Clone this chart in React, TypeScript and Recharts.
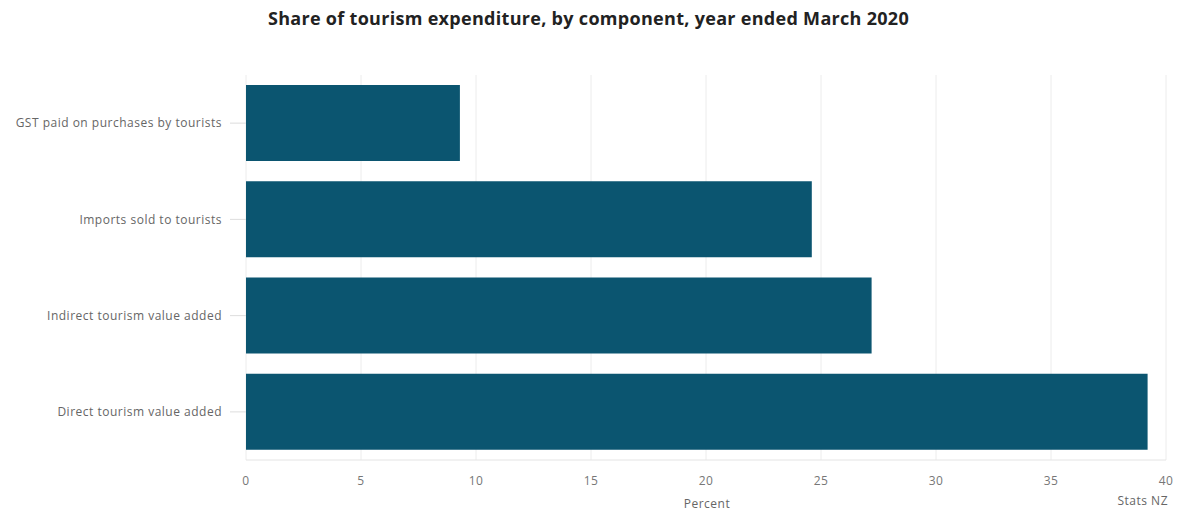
import React from 'react';
import { BarChart, Bar, XAxis, YAxis, CartesianGrid } from 'recharts';

const CATEGORIES = [
  'GST paid on purchases by tourists',
  'Imports sold to tourists',
  'Indirect tourism value added',
  'Direct tourism value added',
];
const SHARE = [9.3, 24.6, 27.2, 39.2];
const X_TICKS = [0, 5, 10, 15, 20, 25, 30, 35, 40];

const data = CATEGORIES.map((name, i) => ({ name, share: SHARE[i] }));

const font = '"Open Sans", "Liberation Sans", sans-serif';

const App: React.FC = () => {
  return (
    <div style={{ position: 'absolute', left: 0, top: 0, width: 1177, height: 514, background: '#fff', fontFamily: font }}>
      <div style={{ position: 'absolute', top: 6, left: 0, width: 1177, textAlign: 'center', fontSize: 18, fontWeight: 700, letterSpacing: 0.3, color: '#222' }}>
        Share of tourism expenditure, by component, year ended March 2020
      </div>

      <BarChart
        width={1177}
        height={514}
        layout="vertical"
        data={data}
        margin={{ top: 75, right: 11, left: 0, bottom: 24 }}
      >
        <CartesianGrid horizontal={false} stroke="#ececec" />
        <XAxis
          type="number"
          domain={[0, 40]}
          ticks={X_TICKS}
          interval={0}
          height={30}
          tick={{ fontSize: 12, fill: '#777', fontFamily: font, letterSpacing: 0.5 }}
          tickLine={false}
          tickMargin={10}
          axisLine={{ stroke: '#e4e4e4' }}
        />
        <YAxis
          type="category"
          dataKey="name"
          width={246}
          tick={{ fontSize: 12, fill: '#666', fontFamily: font, letterSpacing: 0.5 }}
          tickLine={{ stroke: '#ddd' }}
          tickSize={16}
          tickMargin={8}
          axisLine={false}
        />
        <Bar dataKey="share" fill="#0b5570" barSize={76} isAnimationActive={false} />
      </BarChart>

      <div style={{ position: 'absolute', top: 495, left: 607, width: 200, textAlign: 'center', fontSize: 12, letterSpacing: 0.5, color: '#666' }}>
        Percent
      </div>
      <div style={{ position: 'absolute', top: 492, right: 9, textAlign: 'right', fontSize: 12, letterSpacing: 0.5, color: '#666' }}>
        Stats NZ
      </div>
    </div>
  );
};

export default App;
